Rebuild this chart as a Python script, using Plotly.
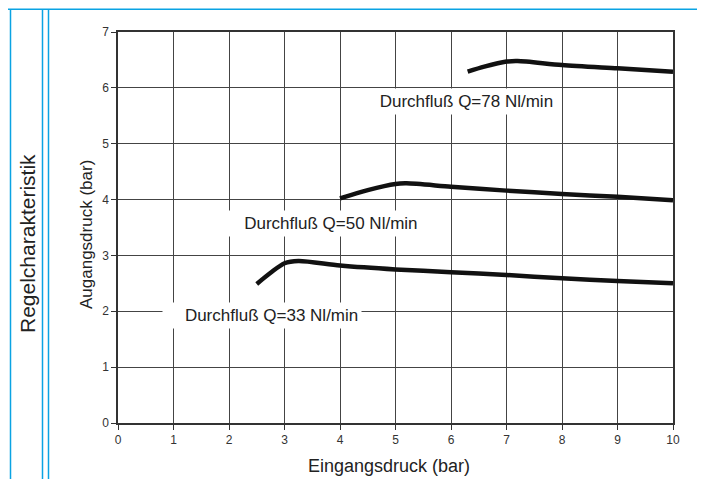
import plotly.graph_objects as go

# Eingangsdruck (bar) -> Ausgangsdruck (bar)
q33_x = [2.5, 2.75, 3.0, 3.25, 4.0, 5.0, 6.0, 7.0, 8.0, 9.0, 10.0]
q33_y = [2.49, 2.69, 2.86, 2.9, 2.82, 2.75, 2.70, 2.65, 2.59, 2.54, 2.50]

q50_x = [4.0, 4.5, 5.0, 5.2, 6.0, 7.0, 8.0, 9.0, 10.0]
q50_y = [4.02, 4.17, 4.28, 4.29, 4.23, 4.16, 4.10, 4.05, 3.99]

q78_x = [6.3, 6.6, 7.0, 7.2, 8.0, 9.0, 10.0]
q78_y = [6.29, 6.38, 6.47, 6.48, 6.41, 6.35, 6.29]

labels = ["Durchfluß Q=33 Nl/min", "Durchfluß Q=50 Nl/min", "Durchfluß Q=78 Nl/min"]
label_x = [2.6, 3.72, 6.24]
label_y = [1.93, 3.58, 5.75]
label_pad = [4, 3, 1]

FONT = "Liberation Sans, Arial, sans-serif"
BLUE = "#0aa3e3"

# the page body has an 8px margin, so the figure is 8px smaller
W, H = 697, 471
L, R, T, B = 110, 32, 24, 56
PW, PH = W - L - R, H - T - B


def px_x(px):
    return (px - 8 - L) / PW


def px_y(py):
    return (H - B - (py - 8)) / PH


fig = go.Figure()

for xs, ys in [(q33_x, q33_y), (q50_x, q50_y), (q78_x, q78_y)]:
    fig.add_trace(go.Scatter(
        x=xs, y=ys, mode="lines",
        line=dict(color="#111111", width=4.5, shape="spline", smoothing=0.8),
        showlegend=False, hoverinfo="skip",
    ))

for txt, lx, ly, pad in zip(labels, label_x, label_y, label_pad):
    fig.add_annotation(
        x=lx, y=ly, text="\u00a0" * pad + txt, showarrow=False,
        font=dict(family=FONT, size=17, color="#222222"),
        bgcolor="white", borderpad=3,
    )

axis_style = dict(
    showgrid=True, gridcolor="#444444", gridwidth=1,
    showline=True, linecolor="#333333", linewidth=1.5, mirror=True,
    ticks="outside", ticklen=5, tickcolor="#333333",
    tickfont=dict(family=FONT, size=12, color="#333333"),
    zeroline=False, dtick=1,
)

fig.update_xaxes(range=[0, 10], **axis_style)
fig.update_yaxes(range=[0, 7], **axis_style)

# axis titles and side caption
fig.add_annotation(xref="paper", yref="paper", x=px_x(389), y=px_y(466),
                   text="Eingangsdruck (bar)", showarrow=False,
                   xanchor="center", yanchor="middle",
                   font=dict(family=FONT, size=18, color="#222222"))
fig.add_annotation(xref="paper", yref="paper", x=px_x(87), y=px_y(235),
                   text="Augangsdruck (bar)", textangle=-90, showarrow=False,
                   xanchor="center", yanchor="middle",
                   font=dict(family=FONT, size=17, color="#222222"))
fig.add_annotation(xref="paper", yref="paper", x=px_x(27), y=px_y(244),
                   text="Regelcharakteristik", textangle=-90, showarrow=False,
                   xanchor="center", yanchor="middle",
                   font=dict(family=FONT, size=21, color="#222222"))

# blue frame lines of the page
fig.add_shape(type="line", xref="paper", yref="paper", x0=px_x(0), x1=px_x(710),
              y0=px_y(9.3), y1=px_y(9.3), line=dict(color=BLUE, width=1.5))
for px in [10.5, 42.5, 48.5]:
    fig.add_shape(type="line", xref="paper", yref="paper", x0=px_x(px), x1=px_x(px),
                  y0=px_y(9.3), y1=px_y(490), line=dict(color=BLUE, width=1.5))

fig.update_layout(
    width=W, height=H,
    margin=dict(l=L, r=R, t=T, b=B),
    plot_bgcolor="white", paper_bgcolor="white",
    font=dict(family=FONT),
)

fig.write_html("out.html")
